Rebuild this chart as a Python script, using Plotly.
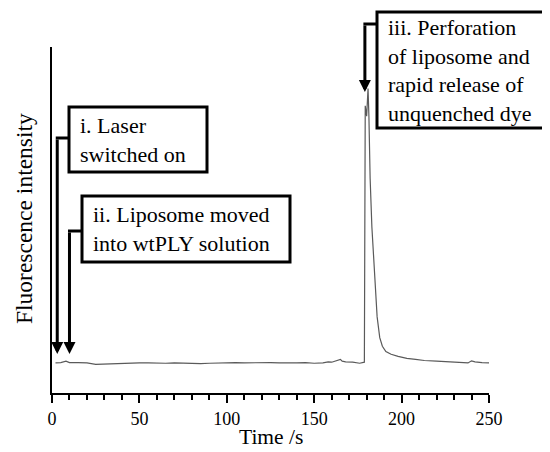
import plotly.graph_objects as go

# Data (fluorescence intensity in arbitrary units, 0-100 axis)
time_s = [2, 5, 8, 10, 15, 20, 25, 30, 35, 40, 45, 50, 55, 60, 65, 70, 75, 80, 85, 90,
          95, 100, 105, 110, 115, 120, 125, 130, 135, 140, 145, 150, 155, 158, 160, 163,
          165, 166, 168, 172, 176, 178.7, 179.0, 179.2, 180.0, 180.8, 181.3, 182.0, 183.0,
          184.5, 186, 187.5, 189, 191, 194, 198, 203, 208, 213, 220, 228, 235, 238, 240,
          242, 246, 250]
intensity = [8.7, 8.8, 9.2, 8.8, 8.8, 8.7, 8.3, 8.4, 8.5, 8.6, 8.8, 8.7, 8.7, 8.6, 8.6,
             8.7, 8.6, 8.5, 8.5, 8.6, 8.7, 8.7, 8.8, 8.7, 8.8, 8.8, 8.8, 8.7, 8.6, 8.7,
             8.8, 8.6, 8.7, 9.0, 8.9, 9.3, 9.7, 9.2, 9.0, 8.9, 8.6, 8.9, 40, 83, 80, 88,
             80, 62, 48, 34, 22, 16, 13.5, 12, 11.2, 10.6, 10.0, 9.7, 9.4, 9.2, 8.9, 8.6,
             8.7, 9.3, 9.0, 8.8, 8.7]

x_ticks = [0, 50, 100, 150, 200, 250]
x_title = "Time /s"
y_title = "Fluorescence intensity"
labels = ["i. Laser<br>switched on",
          "ii. Liposome moved<br>into wtPLY solution",
          "iii. Perforation<br>of liposome and<br>rapid release of<br>unquenched dye"]
event_times = [3, 10, 179]

FONT = "Liberation Serif, Times New Roman, serif"
OFF = 8  # default page body margin
W, H = 550 - OFF, 452 - OFF
L, T = 52 - OFF, 47 - OFF
R, B = 61, 59
PW, PH = W - L - R, H - T - B


def px(xp):
    return (xp - OFF - L) / PW


def py(yp):
    return (H - B - (yp - OFF)) / PH


fig = go.Figure()
fig.add_trace(go.Scatter(x=time_s, y=intensity, mode="lines",
                         line=dict(color="#5a5a5a", width=1.2),
                         hoverinfo="skip", showlegend=False))

shapes = []
annotations = []

# boxes (pixel extents converted to paper coordinates)
boxes = [(69, 107, 207, 172), (82, 196, 290, 262), (377, 12, 548, 128)]
for (x0, y0, x1, y1), txt in zip(boxes, labels):
    shapes.append(dict(type="rect", xref="paper", yref="paper",
                       x0=px(x0), x1=px(x1), y0=py(y1), y1=py(y0),
                       line=dict(color="black", width=3), fillcolor="white", layer="above"))
    annotations.append(dict(xref="paper", yref="paper", x=px(x0 + 9), y=py((y0 + y1) / 2),
                            xanchor="left", yanchor="middle", align="left",
                            text=txt, showarrow=False,
                            font=dict(family=FONT, size=22, color="black")))

# elbow arrows: horizontal segment from box, then vertical arrow down to event time
elbows = [(138, 69, 354), (231, 82, 354), (24, 377, 92)]
for t_ev, (yb, xbox, ytip) in zip(event_times, elbows):
    xline = L + OFF + t_ev * PW / 250
    shapes.append(dict(type="line", xref="paper", yref="paper",
                       x0=px(xbox), x1=px(xline) - 1.5 / PW, y0=py(yb), y1=py(yb),
                       line=dict(color="black", width=3)))
    annotations.append(dict(x=t_ev, y=py(ytip) * 100, xref="x", yref="y",
                            ax=0, ay=-(ytip - yb), axref="pixel", ayref="pixel",
                            showarrow=True, arrowhead=2, arrowsize=0.8, arrowwidth=3,
                            arrowcolor="black", text=""))

annotations.append(dict(xref="paper", yref="paper", x=px(24), y=py(219),
                        text=y_title, textangle=-90, showarrow=False,
                        xanchor="center", yanchor="middle",
                        font=dict(family=FONT, size=23.5, color="black")))
annotations.append(dict(xref="paper", yref="paper", x=px(271), y=py(437),
                        text=x_title, showarrow=False,
                        xanchor="center", yanchor="middle",
                        font=dict(family=FONT, size=21.5, color="black")))

fig.update_layout(
    width=W, height=H,
    margin=dict(l=L, r=R, t=T, b=B, autoexpand=False),
    plot_bgcolor="white", paper_bgcolor="white",
    shapes=shapes, annotations=annotations,
    xaxis=dict(range=[0, 250], tickvals=x_ticks, ticks="outside", ticklen=8,
               tickwidth=1.5, tickcolor="black", showline=True, linecolor="black",
               linewidth=2, showgrid=False, zeroline=False,
               tickfont=dict(family=FONT, size=18, color="black"),
               minor=dict(dtick=10, ticks="outside", ticklen=5, tickwidth=1.5,
                          tickcolor="black", showgrid=False)),
    yaxis=dict(range=[0, 100], showticklabels=False, ticks="", showline=True,
               linecolor="black", linewidth=2, showgrid=False, zeroline=False),
)

fig.write_html("out.html")
